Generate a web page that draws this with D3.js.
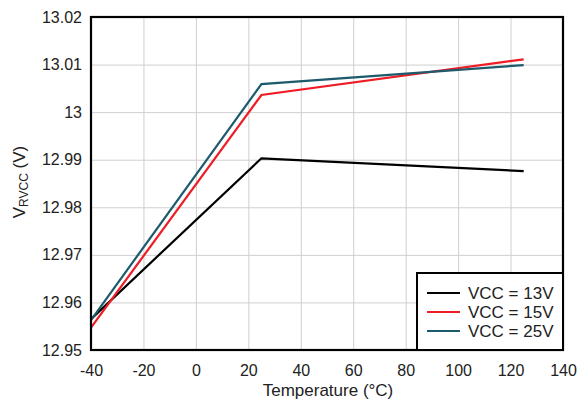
<!DOCTYPE html>
<html><head><meta charset="utf-8">
<script src="https://cdn.jsdelivr.net/npm/d3@7"></script>
<style>body{margin:0;background:#fff}svg{display:block}text{font-family:"Liberation Sans",Arial,sans-serif;fill:#222}</style>
</head><body><svg id="c" width="579" height="404"></svg>
<script>
const temps = [-40, 25, 125];
const vcc13 = [12.9565, 12.9903, 12.9876];
const vcc15 = [12.9547, 13.0036, 13.0111];
const vcc25 = [12.9563, 13.0059, 13.0099];
const seriesNames = ["VCC = 13V", "VCC = 15V", "VCC = 25V"];
const seriesColors = ["#000000", "#ee1c25", "#1d5a6b"];
const xTicks = [-40, -20, 0, 20, 40, 60, 80, 100, 120, 140];
const yTicks = [12.95, 12.96, 12.97, 12.98, 12.99, 13.00, 13.01, 13.02];
const yTickLabels = ["12.95", "12.96", "12.97", "12.98", "12.99", "13", "13.01", "13.02"];

const svg = d3.select("#c");
const L = 91, R = 563, T = 17, B = 350;
const x = d3.scaleLinear().domain([-40, 140]).range([L, R]);
const y = d3.scaleLinear().domain([12.95, 13.02]).range([B, T]);
const FF = '"Liberation Sans",Arial,sans-serif';

// grid
svg.append("g").attr("transform", `translate(0,${B})`)
  .call(d3.axisBottom(x).tickValues(xTicks).tickSize(-(B - T)).tickFormat(""))
  .call(g => g.select(".domain").remove())
  .call(g => g.selectAll("line").attr("stroke", "#cfcfcf").attr("stroke-width", 1));
svg.append("g").attr("transform", `translate(${L},0)`)
  .call(d3.axisLeft(y).tickValues(yTicks).tickSize(-(R - L)).tickFormat(""))
  .call(g => g.select(".domain").remove())
  .call(g => g.selectAll("line").attr("stroke", "#cfcfcf").attr("stroke-width", 1));

// tick labels
svg.append("g").attr("transform", `translate(0,${B})`)
  .call(d3.axisBottom(x).tickValues(xTicks).tickSize(0).tickPadding(15).tickFormat(d => d))
  .call(g => g.select(".domain").remove())
  .call(g => g.selectAll("text").attr("font-size", 16).attr("fill", "#222").attr("font-family", FF));
svg.append("g").attr("transform", `translate(${L},0)`)
  .call(d3.axisLeft(y).tickValues(yTicks).tickSize(0).tickPadding(9).tickFormat((d, i) => yTickLabels[i]))
  .call(g => g.select(".domain").remove())
  .call(g => g.selectAll("text").attr("font-size", 16).attr("fill", "#222").attr("font-family", FF));

// lines
const all = [vcc13, vcc15, vcc25];
const line = d3.line().x((d, i) => x(temps[i])).y(d => y(d));
all.forEach((s, k) => {
  svg.append("path").datum(s).attr("d", line).attr("fill", "none")
    .attr("stroke", seriesColors[k]).attr("stroke-width", 2.2).attr("stroke-linejoin", "miter");
});

// frame
svg.append("rect").attr("x", L).attr("y", T).attr("width", R - L).attr("height", B - T)
  .attr("fill", "none").attr("stroke", "#000").attr("stroke-width", 2.2);

// legend
const lg = svg.append("g");
lg.append("rect").attr("x", 417).attr("y", 273).attr("width", R - 417).attr("height", B - 273)
  .attr("fill", "#fff").attr("stroke", "#000").attr("stroke-width", 2);
seriesNames.forEach((n, k) => {
  const yy = 293 + k * 19;
  lg.append("line").attr("x1", 427).attr("x2", 460).attr("y1", yy).attr("y2", yy)
    .attr("stroke", seriesColors[k]).attr("stroke-width", 2.2);
  lg.append("text").attr("x", 468).attr("y", yy + 6).attr("font-size", 17).text(n);
});

// axis titles
svg.append("text").attr("x", 328).attr("y", 396).attr("text-anchor", "middle").attr("font-size", 17)
  .text("Temperature (°C)");
const yl = svg.append("text").attr("transform", "translate(25,182) rotate(-90)").attr("text-anchor", "middle").attr("font-size", 17);
yl.append("tspan").text("V");
yl.append("tspan").attr("font-size", 12).attr("dy", 3).text("RVCC");
yl.append("tspan").attr("dy", -3).text(" (V)");
</script></body></html>
